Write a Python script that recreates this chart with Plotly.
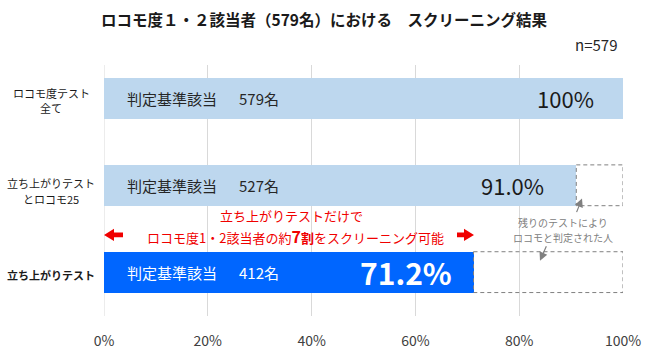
import plotly.graph_objects as go

# ---- data ----
categories = ["ロコモ度テスト全て", "立ち上がりテストとロコモ25", "立ち上がりテスト"]
category_lines = [["ロコモ度テスト", "全て"], ["立ち上がりテスト", "とロコモ25"], ["<b>立ち上がりテスト</b>"]]
percent = [100, 91.0, 71.2]
counts = [579, 527, 412]
pct_labels = ["100%", "91.0%", "71.2%"]
in_bar_label = "判定基準該当"
n_total = 579
title_text = "ロコモ度１・２該当者（579名）における　スクリーニング結果"
note_red_1 = "立ち上がりテストだけで"
note_red_2 = "ロコモ度1・2該当者の約<b><span style='font-size:16px'>7</span>割</b>をスクリーニング可能"
note_gray_1 = "残りのテストにより"
note_gray_2 = "ロコモと判定された人"
x_ticks = [0, 20, 40, 60, 80, 100]

# ---- style ----
FONT = "Noto Sans CJK JP"
bar_colors = ["#bdd7ee", "#bdd7ee", "#0066ff"]
txt_colors = ["#262626", "#262626", "#ffffff"]
pct_sizes = [22, 22, 30]
pct_offsets = [5.2, 5.8, 3.8]
RED = "#f00000"
GRAY = "#808080"

W, H = 653, 362
L, R, T, B = 104, 30, 65, 34
pw, ph = W - L - R, H - T - B


def px(x):
    return (x - L) / pw


def py(y):
    return (H - B - y) / ph


fig = go.Figure()
fig.add_trace(go.Bar(
    x=percent, y=categories, orientation="h", width=0.47,
    marker=dict(color=bar_colors, line=dict(width=0)),
    hoverinfo="skip", showlegend=False,
))

ann = []
shapes = []
for i, cat in enumerate(categories):
    ann.append(dict(x=4.05, y=i, xref="x", yref="y", text=in_bar_label, showarrow=False,
                    xanchor="left", yanchor="middle", font=dict(size=15, color=txt_colors[i], family=FONT)))
    ann.append(dict(x=25.6, y=i, xref="x", yref="y", text=f"{counts[i]}名", showarrow=False,
                    xanchor="left", yanchor="middle", font=dict(size=15, color=txt_colors[i], family=FONT)))
    lbl = pct_labels[i] if i < 2 else f"<b>{pct_labels[i]}</b>"
    ann.append(dict(x=percent[i] - pct_offsets[i], y=i, xref="x", yref="y", text=lbl, showarrow=False,
                    xanchor="right", yanchor="middle",
                    font=dict(size=pct_sizes[i], color=txt_colors[i] if i == 2 else "#1a1a1a", family=FONT)))
    if percent[i] < 100:
        shapes.append(dict(type="rect", xref="x", yref="y", x0=percent[i], x1=100,
                           y0=i - 0.235, y1=i + 0.235,
                           line=dict(color=GRAY, width=1, dash="4px,3px"), fillcolor="rgba(0,0,0,0)"))

# category labels (centered, one annotation per line)
line_pix = [[94, 110], [189, 205], [285]]
for i, lines in enumerate(category_lines):
    for t, yp in zip(lines, line_pix[i]):
        ann.append(dict(x=px(51), y=py(yp), xref="paper", yref="paper", text=t, showarrow=False,
                        xanchor="center", yanchor="middle", align="center", borderpad=0,
                        font=dict(size=11, color="#1a1a1a", family=FONT)))

# title and n
ann.append(dict(x=px(324), y=py(17), xref="paper", yref="paper", text=f"<b>{title_text}</b>",
                showarrow=False, xanchor="center", yanchor="middle",
                font=dict(size=15.5, color="#1a1a1a", family=FONT)))
ann.append(dict(x=px(619), y=py(44), xref="paper", yref="paper", text=f"n={n_total}",
                showarrow=False, xanchor="right", yanchor="middle",
                font=dict(size=15, color="#262626", family=FONT)))

# red note
ann.append(dict(x=px(291), y=py(223), xref="paper", yref="paper", text=note_red_1, showarrow=False,
                xanchor="center", yanchor="middle", borderpad=0, font=dict(size=13, color=RED, family=FONT)))
ann.append(dict(x=px(295), y=py(244), xref="paper", yref="paper", text=note_red_2, showarrow=False,
                xanchor="center", yanchor="middle", borderpad=0, font=dict(size=13, color=RED, family=FONT)))

# gray note
ann.append(dict(x=px(563), y=py(230), xref="paper", yref="paper", text=note_gray_1, showarrow=False,
                xanchor="center", yanchor="middle", borderpad=0, font=dict(size=10, color=GRAY, family=FONT)))
ann.append(dict(x=px(563), y=py(246), xref="paper", yref="paper", text=note_gray_2, showarrow=False,
                xanchor="center", yanchor="middle", borderpad=0, font=dict(size=10, color=GRAY, family=FONT)))
ann.append(dict(x=px(582), y=py(205), xref="paper", yref="paper", ax=-6, ay=15, text="",
                showarrow=True, arrowhead=2, arrowsize=1.4, arrowwidth=1.2, arrowcolor=GRAY))
ann.append(dict(x=px(540), y=py(270), xref="paper", yref="paper", ax=7, ay=-16, text="",
                showarrow=True, arrowhead=2, arrowsize=1.4, arrowwidth=1.2, arrowcolor=GRAY))


# red block arrows
def block_arrow(tip, base_x, stem_x, yc):
    pts = [(tip, yc), (base_x, yc - 6.5), (base_x, yc - 2.5), (stem_x, yc - 2.5),
           (stem_x, yc + 2.5), (base_x, yc + 2.5), (base_x, yc + 6.5)]
    return "M " + " L ".join(f"{px(a):.5f},{py(b):.5f}" for a, b in pts) + " Z"


shapes.append(dict(type="path", xref="paper", yref="paper", path=block_arrow(104, 114, 123, 243),
                   fillcolor=RED, line=dict(width=0)))
shapes.append(dict(type="path", xref="paper", yref="paper", path=block_arrow(474, 464, 457, 243),
                   fillcolor=RED, line=dict(width=0)))
# zero gridline
shapes.append(dict(type="line", xref="x", yref="paper", x0=0, x1=0, y0=0, y1=1,
                   line=dict(color="#d9d9d9", width=1), layer="below"))

fig.update_layout(
    width=W, height=H,
    margin=dict(l=L, r=R, t=T, b=B),
    paper_bgcolor="white", plot_bgcolor="white",
    font=dict(family=FONT),
    xaxis=dict(range=[0, 100], tickvals=x_ticks, ticktext=[f"{v}%" for v in x_ticks],
               showgrid=True, gridcolor="#d9d9d9", gridwidth=1,
               zeroline=False, showline=False,
               ticks="", ticklabelstandoff=15,
               tickfont=dict(size=14, color="#404040", family=FONT), fixedrange=True),
    yaxis=dict(type="category", categoryarray=categories, range=[2.505, -0.385],
               showticklabels=False, showgrid=False, zeroline=False, showline=False, fixedrange=True),
    annotations=ann, shapes=shapes,
    bargap=0,
)

fig.write_html("out.html", config={"displayModeBar": False},
               post_script="document.body.style.margin='0';document.body.style.overflow='hidden';")
